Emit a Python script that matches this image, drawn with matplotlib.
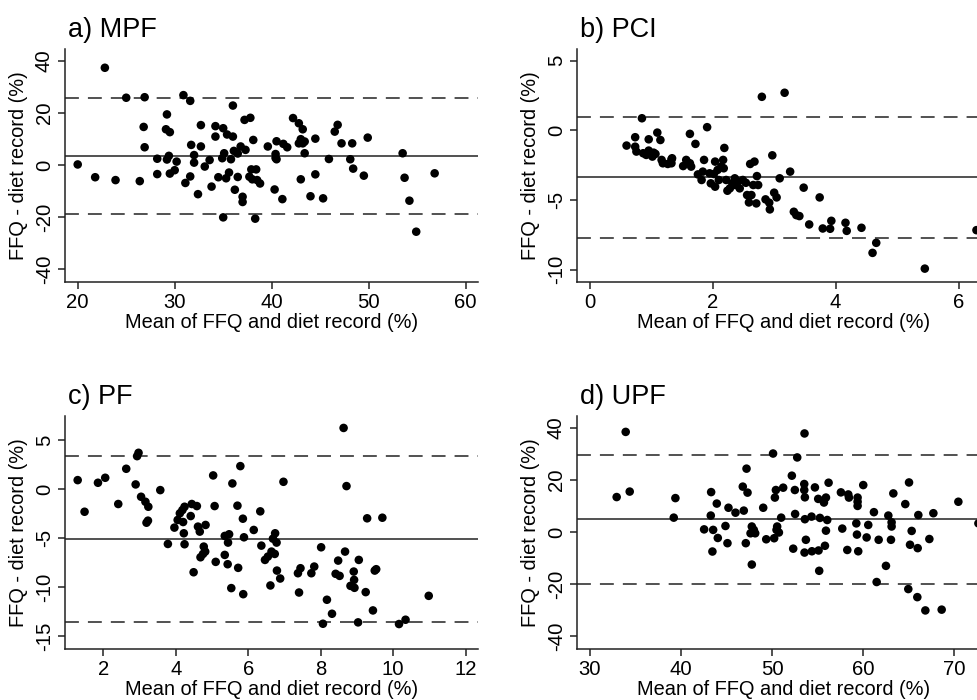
import matplotlib
matplotlib.use('Agg')
import matplotlib.pyplot as plt

plt.rcParams['font.family'] = ['Liberation Sans', 'DejaVu Sans']
plt.rcParams['axes.unicode_minus'] = False
plt.rcParams['lines.scale_dashes'] = False

#region data
# a) MPF
mpf_x = [20.0, 22.8, 21.8, 23.9, 25.0, 26.4, 26.9, 26.8, 26.9, 28.2, 28.2, 29.1, 29.2, 29.2, 29.4,
         29.5, 29.5, 30.0, 30.2, 30.9, 31.1, 31.6, 31.7, 31.6, 32.0, 32.0, 32.4, 32.7, 32.7, 33.1,
         33.6, 33.8, 34.2, 34.2, 34.5, 35.0, 35.1, 34.9, 35.0, 35.4, 35.3, 35.6, 36.0, 36.0, 35.8,
         36.1, 36.2, 36.5, 36.5, 36.8, 37.0, 37.0, 37.2, 37.3, 37.8, 37.7, 37.9, 38.1, 38.0, 38.3,
         38.4, 38.5, 38.8, 39.6, 40.3, 40.4, 40.5, 40.4, 40.5, 41.1, 41.2, 41.6, 42.2, 42.8, 42.8,
         43.0, 43.2, 43.0, 43.2, 43.4, 43.4, 44.0, 44.5, 44.5, 45.3, 45.9, 46.5, 46.8, 47.2, 48.1,
         48.3, 48.4, 49.5, 49.9, 53.5, 53.7, 54.2, 54.9, 56.8]
mpf_y = [0.2, 37.3, -4.7, -5.8, 25.8, -6.2, 26.0, 14.6, 6.8, 2.4, -3.5, 13.7, 19.4, 2.1, 3.5,
         12.6, -3.3, -2.0, 1.3, 26.8, -6.9, 24.6, 7.7, -4.4, 3.8, 0.9, -11.2, 15.3, 7.1, -0.6,
         1.9, -8.3, 10.9, 14.9, -4.7, 14.1, 4.5, 2.6, -20.1, 11.7, -5.1, -2.9, 22.8, 10.9, 2.2,
         5.4, -9.5, 4.4, -4.6, 7.1, -12.2, -14.2, 17.3, 5.8, 18.1, -4.5, -1.7, 9.6, -5.5, -20.6,
         -1.7, -5.8, -7.1, 7.1, -9.4, 4.2, 9.1, 2.7, 2.2, -13.1, 8.1, 6.8, 18.0, 16.0, 8.3,
         9.9, 13.7, -5.5, 8.3, 4.5, 9.0, -12.0, 10.1, -3.6, -12.8, 2.3, 12.8, 15.4, 8.3, 2.2,
         8.3, -1.4, -4.1, 10.5, 4.5, -4.9, -13.7, -25.6, -3.2]
mpf_lines = [25.6, 3.6, -18.7]

# b) PCI
pci_x = [0.60, 0.74, 0.74, 0.76, 0.85, 0.87, 0.96, 0.96, 0.92, 1.02, 1.04, 1.07, 1.10, 1.15, 1.17,
         1.19, 1.27, 1.33, 1.33, 1.34, 1.52, 1.57, 1.63, 1.63, 1.65, 1.72, 1.76, 1.82, 1.86, 1.84,
         1.91, 1.95, 1.97, 2.02, 2.04, 2.04, 2.08, 2.10, 2.14, 2.17, 2.19, 2.18, 2.22, 2.24, 2.28,
         2.32, 2.36, 2.37, 2.41, 2.44, 2.49, 2.54, 2.56, 2.59, 2.61, 2.63, 2.66, 2.68, 2.71, 2.72,
         2.74, 2.80, 2.86, 2.93, 2.92, 2.97, 3.00, 3.04, 3.09, 3.17, 3.26, 3.32, 3.36, 3.41, 3.48,
         3.57, 3.74, 3.79, 3.91, 3.93, 4.16, 4.18, 4.42, 4.60, 4.66, 5.45, 6.29]
pci_y = [-1.10, -0.50, -1.18, -1.53, 0.86, -1.65, -0.65, -1.46, -1.77, -1.89, -1.61, -1.70, -0.17, -0.70, -2.13,
         -2.37, -2.42, -2.09, -2.37, -2.01, -2.57, -2.13, -2.37, -0.26, -2.61, -0.98, -3.17, -3.57, -2.13, -2.97,
         0.22, -3.09, -3.81, -3.14, -4.05, -2.25, -2.85, -3.57, -2.61, -2.13, -1.27, -2.73, -3.57, -4.34, -4.17,
         -3.81, -3.45, -3.93, -3.69, -4.17, -3.57, -3.77, -4.65, -5.18, -2.42, -4.65, -3.93, -2.25, -5.25, -3.29,
         -3.93, 2.40, -4.96, -5.68, -5.20, -1.80, -4.48, -4.82, -3.45, 2.69, -2.97, -5.85, -6.09, -6.16, -4.12,
         -6.76, -4.82, -7.05, -7.07, -6.50, -6.64, -7.22, -7.00, -8.80, -8.08, -9.93, -7.17]
pci_lines = [0.98, -3.33, -7.72]

# c) PF
pf_x = [1.29, 1.48, 1.85, 2.05, 2.41, 2.63, 2.89, 2.93, 2.97, 3.04, 3.16, 3.19, 3.24, 3.23, 3.57,
        3.78, 3.96, 4.05, 4.11, 4.18, 4.20, 4.22, 4.24, 4.24, 4.41, 4.44, 4.49, 4.58, 4.61, 4.66,
        4.68, 4.77, 4.81, 4.82, 4.75, 5.03, 5.07, 5.10, 5.35, 5.35, 5.43, 5.47, 5.44, 5.53, 5.56,
        5.70, 5.72, 5.78, 5.85, 5.88, 5.86, 6.15, 6.33, 6.36, 6.46, 6.54, 6.61, 6.64, 6.68, 6.73,
        6.74, 6.78, 6.79, 6.88, 6.97, 7.37, 7.40, 7.44, 7.74, 7.82, 8.01, 8.06, 8.17, 8.31, 8.41,
        8.48, 8.52, 8.63, 8.67, 8.71, 8.82, 8.91, 8.92, 8.93, 9.05, 9.03, 9.24, 9.28, 9.44, 9.49,
        9.53, 9.70, 10.16, 10.34, 10.98]
pf_y = [0.95, -2.28, 0.68, 1.19, -1.49, 2.11, 0.51, 3.40, 3.74, -0.75, -1.26, -3.40, -1.77, -3.19, -0.07,
        -5.57, -3.90, -3.12, -2.44, -2.11, -3.33, -4.48, -1.77, -5.60, -2.72, -1.49, -8.46, -1.70, -3.80, -4.31,
        -6.93, -5.84, -6.35, -3.63, -6.59, 1.43, -1.70, -7.40, -4.75, -6.69, -7.64, -4.58, -5.43, -10.08, 0.61,
        -1.66, -8.01, 2.38, -2.99, -4.89, -10.70, -4.14, -2.24, -5.74, -7.20, -6.86, -9.81, -6.35, -5.03, -6.59,
        -4.48, -5.43, -8.29, -9.10, 0.78, -8.56, -10.53, -8.05, -8.56, -7.88, -5.91, -13.72, -11.27, -12.70, -8.62,
        -7.27, -8.83, 6.28, -6.35, 0.34, -9.85, -8.39, -9.24, -10.05, -7.20, -13.58, -10.49, -2.95, -12.36, -8.29,
        -8.15, -2.89, -13.75, -13.31, -10.87]
pf_lines = [3.40, -5.03, -13.55]

# d) UPF
upf_x = [32.96, 33.95, 34.39, 39.22, 39.40, 42.55, 43.32, 43.28, 43.54, 43.46, 43.94, 44.05, 44.89, 45.22, 45.11,
         45.99, 46.79, 46.90, 47.20, 47.31, 47.12, 47.78, 47.78, 47.64, 48.00, 48.15, 49.03, 49.36, 50.11, 50.31,
         50.42, 50.56, 50.23, 50.49, 50.75, 51.00, 51.22, 52.17, 52.32, 52.50, 52.53, 52.76, 53.56, 53.53, 53.53,
         53.60, 53.60, 53.71, 53.56, 54.33, 54.37, 54.70, 55.06, 55.10, 55.17, 55.25, 55.69, 55.80, 55.91, 56.05,
         55.91, 56.20, 57.55, 57.70, 58.36, 58.43, 58.25, 59.38, 59.38, 59.38, 59.24, 59.31, 59.45, 60.00, 60.37,
         60.55, 61.17, 61.47, 61.69, 62.49, 62.75, 63.11, 63.11, 63.04, 63.30, 64.61, 65.02, 64.94, 65.31, 65.13,
         65.97, 66.04, 65.93, 66.81, 67.25, 67.69, 68.60, 70.43, 72.63]
upf_y = [13.5, 38.5, 15.6, 5.6, 13.1, 1.1, 15.4, 6.4, 0.9, -7.4, 11.0, -2.2, 2.4, 9.4, -4.2,
         7.5, 17.5, 8.3, 24.4, 15.2, -4.2, 2.2, -12.4, -0.4, 0.9, -0.4, 9.4, -2.7, 30.2, 13.3,
         16.2, 2.2, -2.3, 0.9, -0.1, 5.6, 17.1, 21.7, -6.3, 16.2, 7.0, 28.7, 37.9, 18.5, 16.2,
         13.4, 5.0, -2.9, -7.8, 6.0, -7.3, 17.2, 12.8, -7.0, -14.8, 5.5, 11.4, -5.2, 13.3, 4.7,
         0.6, 19.0, 15.3, 1.4, 14.5, 13.3, -6.8, 13.3, 11.7, 10.1, 3.4, -0.9, -7.3, 18.1, -2.0,
         2.8, 7.7, -19.1, -2.9, -12.9, 6.4, 3.8, 2.2, -2.9, 14.9, 10.8, 19.1, -21.8, 0.5, -4.8,
         -6.1, 6.6, -24.9, -30.0, -2.6, 7.3, -29.7, 11.7, 3.4]
upf_lines = [29.6, 5.0, -19.8]
#endregion

W, H = 977, 700
fig = plt.figure(figsize=(W / 100, H / 100), dpi=100)


def px_axes(left, top, right, bottom):
  return fig.add_axes([left / W, 1 - bottom / H, (right - left) / W, (bottom - top) / H])


panels = [
  ('a) MPF', mpf_x, mpf_y, mpf_lines, (65, 49, 478, 282), (18.69, 61.27), (-44.9, 44.5),
   [20, 30, 40, 50, 60], [-40, -20, 0, 20, 40]),
  ('b) PCI', pci_x, pci_y, pci_lines, (577, 49, 990, 282), (-0.206, 6.51), (-10.89, 5.83),
   [0, 2, 4, 6], [-10, -5, 0, 5]),
  ('c) PF', pf_x, pf_y, pf_lines, (65, 416, 478, 649), (0.94, 12.34), (-16.3, 7.5),
   [2, 4, 6, 8, 10, 12], [-15, -10, -5, 0, 5]),
  ('d) UPF', upf_x, upf_y, upf_lines, (577, 416, 990, 649), (28.61, 73.9), (-44.8, 44.6),
   [30, 40, 50, 60, 70], [-40, -20, 0, 20, 40]),
]

for title, xs, ys, lims, box, xlim, ylim, xt, yt in panels:
  ax = px_axes(*box)
  ax.scatter(xs, ys, s=38, color='black', edgecolors='none', zorder=3)
  upper, mean, lower = lims
  ax.axhline(mean, color='#333333', lw=1.2, zorder=2)
  for v in (upper, lower):
    ax.axhline(v, color='#333333', lw=1.2, ls=(0, (10, 6.5)), zorder=2)
  ax.set_xlim(*xlim)
  ax.set_ylim(*ylim)
  ax.set_xticks(xt)
  ax.set_yticks(yt)
  for s in ('top', 'right'):
    ax.spines[s].set_visible(False)
  for s in ('left', 'bottom'):
    ax.spines[s].set_linewidth(1.1)
    ax.spines[s].set_color('#222222')
  ax.tick_params(length=5, width=1.1, color='#222222', labelsize=14.6, pad=3)
  ax.tick_params(axis='y', labelrotation=90)
  for lbl in ax.get_yticklabels():
    lbl.set_va('center')
  ax.set_xlabel('Mean of FFQ and diet record (%)', fontsize=14.4)
  ax.set_ylabel('FFQ - diet record (%)', fontsize=14.4)
  ax.xaxis.set_label_coords(0.5, -0.135)
  ax.yaxis.set_label_coords(-0.09, 0.5)
  ax.patch.set_alpha(0)
  fig.text((box[0] + 3) / W, 1 - (box[1] - 12) / H, title, fontsize=19.5,
           ha='left', va='baseline')

fig.savefig('out.png', dpi=100)
